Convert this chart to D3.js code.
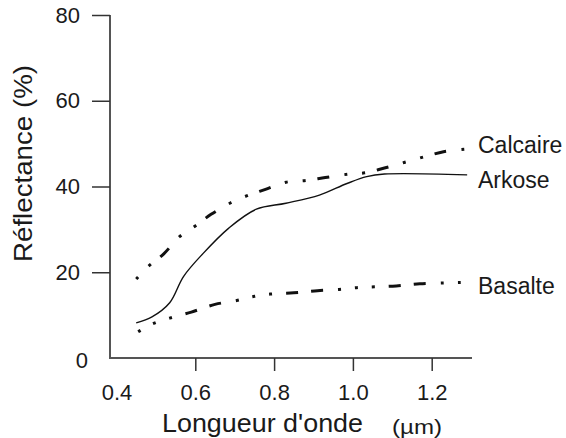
<!DOCTYPE html>
<html>
<head>
<meta charset="utf-8">
<script src="https://cdn.jsdelivr.net/npm/d3@7"></script>
<style>
  html, body { margin: 0; padding: 0; background: #fff; }
  svg { display: block; font-family: "Liberation Sans", Arial, Helvetica, sans-serif; }
</style>
</head>
<body>
<svg id="chart" width="566" height="438"></svg>
<script>
// ---- data ----
const xTicks = [0.4, 0.6, 0.8, 1.0, 1.2];
const yTicks = [0, 20, 40, 60, 80];
const xLabel = "Longueur d'onde";
const xUnit = "(\u00b5m)";
const yLabel = "R\u00e9flectance (%)";

const seriesNames = ["Calcaire", "Arkose", "Basalte"];

const calcaireX = [0.45, 0.48, 0.52, 0.56, 0.60, 0.64, 0.69, 0.73, 0.78, 0.83, 0.88, 0.93, 0.99, 1.03, 1.08, 1.13, 1.18, 1.23, 1.285];
const calcaireY = [18.4, 21.3, 24.3, 28.3, 30.8, 33.5, 36.2, 37.8, 39.4, 41.0, 41.4, 42.1, 42.9, 43.2, 44.3, 45.6, 46.9, 48.1, 48.7];

const arkoseX = [0.45, 0.49, 0.535, 0.57, 0.62, 0.685, 0.755, 0.83, 0.915, 0.985, 1.035, 1.08, 1.29];
const arkoseY = [8.2, 9.6, 12.9, 19.0, 24.4, 30.3, 34.7, 36.1, 38.0, 40.7, 42.3, 42.9, 42.7];

const basalteX = [0.455, 0.49, 0.535, 0.59, 0.65, 0.705, 0.745, 0.79, 0.85, 0.91, 0.965, 1.01, 1.055, 1.11, 1.17, 1.23, 1.275];
const basalteY = [6.1, 7.9, 9.3, 10.7, 12.5, 13.4, 14.3, 14.9, 15.2, 15.7, 16.0, 16.4, 16.6, 16.8, 17.3, 17.5, 17.6];

// ---- layout ----
const svg = d3.select("#chart");
const x = d3.scaleLinear().domain([0.4, 1.2]).range([116.5, 431.7]);
const y = d3.scaleLinear().domain([0, 80]).range([358, 15]);
const axisLeftX = 110, axisRightX = 472;
const ink = "#1a1a1a";

// axis lines
svg.append("line").attr("x1", axisLeftX).attr("x2", axisLeftX)
  .attr("y1", y(80)).attr("y2", y(0) + 0.5)
  .attr("stroke", "#555").attr("stroke-width", 2);
svg.append("line").attr("x1", axisLeftX - 1).attr("x2", axisRightX)
  .attr("y1", y(0)).attr("y2", y(0))
  .attr("stroke", "#555").attr("stroke-width", 2);

// y axis ticks + labels
const gy = svg.append("g").attr("transform", `translate(${axisLeftX},0)`)
  .call(d3.axisLeft(y).tickValues(yTicks).tickSize(18).tickPadding(12).tickFormat(d3.format("d")));
gy.select(".domain").remove();
gy.selectAll(".tick line").attr("stroke", "#333").attr("stroke-width", 1.5);
gy.selectAll(".tick text").attr("font-size", 22).attr("fill", ink)
  .attr("font-family", "Liberation Sans, Arial, sans-serif");
gy.selectAll(".tick").filter(d => d === 0).each(function() {
  d3.select(this).select("line").remove();
  d3.select(this).select("text").attr("x", -22).attr("dy", "0.45em");
});

// x axis ticks + labels
const gx = svg.append("g").attr("transform", `translate(0,${y(0)})`)
  .call(d3.axisBottom(x).tickValues(xTicks).tickSize(13).tickPadding(13).tickFormat(d3.format(".1f")));
gx.select(".domain").remove();
gx.selectAll(".tick line").attr("stroke", "#333").attr("stroke-width", 1.5);
gx.selectAll(".tick text").attr("font-size", 22).attr("fill", ink)
  .attr("font-family", "Liberation Sans, Arial, sans-serif");
gx.selectAll(".tick").filter(d => d === 0.4).select("line").remove();

// axis titles
svg.append("text").attr("x", 162).attr("y", 432)
  .attr("font-size", 25).attr("fill", ink)
  .attr("textLength", 201).attr("lengthAdjust", "spacingAndGlyphs")
  .text(xLabel);
svg.append("text").attr("x", 392).attr("y", 434)
  .attr("font-size", 21).attr("fill", ink)
  .attr("textLength", 50).attr("lengthAdjust", "spacingAndGlyphs")
  .text(xUnit);
svg.append("text")
  .attr("transform", "translate(31.5,163.5) rotate(-90)")
  .attr("text-anchor", "middle")
  .attr("font-size", 25).attr("fill", ink)
  .attr("textLength", 197).attr("lengthAdjust", "spacingAndGlyphs")
  .text(yLabel);

// series
const line = d3.line().curve(d3.curveCatmullRom.alpha(0.5)).x(d => x(d[0])).y(d => y(d[1]));
const series = [
  { name: seriesNames[0], xs: calcaireX, ys: calcaireY, dash: "3 15 3 12 12 15", width: 3, labelY: 153 },
  { name: seriesNames[1], xs: arkoseX, ys: arkoseY, dash: null, width: 1.4, labelY: 188 },
  { name: seriesNames[2], xs: basalteX, ys: basalteY, dash: "3 14 3 14 3 14 12 13 12 15", width: 3, labelY: 294 }
];

series.forEach(s => {
  const pts = s.xs.map((v, i) => [v, s.ys[i]]);
  const p = svg.append("path").datum(pts)
    .attr("d", line)
    .attr("fill", "none")
    .attr("stroke", "#111")
    .attr("stroke-width", s.width)
    .attr("stroke-linejoin", "round");
  if (s.dash) p.attr("stroke-dasharray", s.dash);
  svg.append("text").attr("x", 478).attr("y", s.labelY)
    .attr("font-size", 23).attr("fill", ink)
    .text(s.name);
});
</script>
</body>
</html>
